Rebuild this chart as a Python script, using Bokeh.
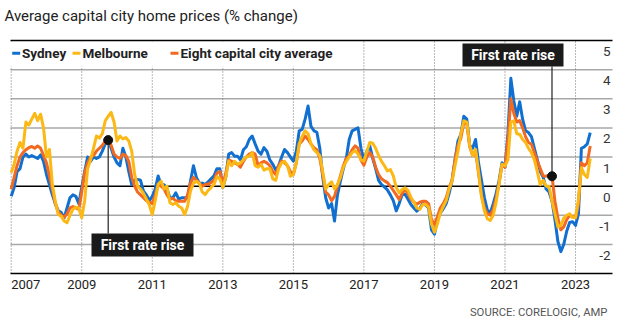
from bokeh.plotting import figure
from bokeh.models import Range1d, ColumnDataSource
from bokeh.core.properties import value
from bokeh.embed import file_html
from bokeh.resources import INLINE

# ---------------- data (monthly, Jan 2007 - Jun 2023) ----------------
sydney = [
    -0.35, -0.05, 0.5, 0.6, 1.0, 1.1, 1.0, 1.05, 1.0, 0.95,
    1.07, 0.85, 0.4, 0.05, -0.3, -0.6, -0.85, -0.9, -1.1, -0.75,
    -0.4, -0.3, -0.35, -0.6, -0.05, 0.5, 1.0, 0.85, 1.0, 0.95,
    1.0, 1.2, 1.45, 1.55, 1.3, 1.0, 0.8, 0.7, 1.3, 1.0,
    0.5, 0.05, 0.2, 0.23, 0.2, -0.17, -0.3, -0.5, -0.35, -0.1,
    0.35, 0.05, 0.05, -0.1, -0.4, -0.4, -0.23, -0.45, -0.4, -0.4,
    -0.4, 0.17, 0.7, 0.3, 0.1, 0.1, 0.05, 0.15, 0.25, 0.35,
    0.6, 0.6, -0.05, 0.3, 1.1, 1.15, 1.03, 1.03, 0.9, 1.25,
    1.35, 1.6, 1.72, 1.45, 1.2, 1.1, 1.32, 1.2, 0.9, 0.75,
    0.55, 0.7, 1.0, 1.26, 1.15, 1.0, 0.86, 1.2, 1.9, 1.95,
    2.3, 2.75, 2.05, 1.9, 1.85, 1.3, 0.3, -0.4, -0.75, -0.6,
    -1.2, -0.3, 0.17, 0.6, 0.95, 1.6, 1.9, 1.95, 2.0, 1.3,
    0.9, 1.2, 1.38, 0.95, 0.6, 0.2, 0.05, -0.03, -0.13, -0.3,
    -0.5, -0.85, -0.6, -0.3, -0.28, -0.45, -0.63, -0.75, -0.86, -0.77,
    -0.6, -0.65, -0.75, -1.5, -1.65, -1.15, -0.92, -0.78, -0.6, -0.25,
    0.2, 0.9, 1.55, 1.78, 2.4, 2.3, 1.4, 1.3, 1.6, 0.8,
    0.2, -0.4, -0.82, -0.92, -0.6, -0.25, 0.2, 0.8, 0.65, 1.8,
    3.7, 2.93, 2.4, 2.9, 2.3, 1.9, 1.84, 1.7, 1.3, 0.9,
    0.5, 0.3, -0.1, -0.2, -0.52, -1.15, -1.9, -2.25, -2.0, -1.55,
    -1.25, -1.22, -1.35, -0.95, 1.3, 1.35, 1.45, 1.84,
]
melbourne = [
    0.46, 0.75, 1.2, 1.5, 1.3, 2.2, 2.1, 2.3, 2.5, 2.25,
    2.47, 2.0, 1.0, 1.26, 0.06, -0.52, -0.98, -1.03, -1.2, -1.26,
    -1.0, -0.8, -0.72, -0.75, -1.09, -0.5, 0.6, 0.9, 1.3, 1.72,
    1.65, 1.8, 2.24, 2.4, 2.53, 2.2, 1.55, 1.72, 1.62, 1.67,
    1.55, 1.2, 0.4, 0.0, -0.1, -0.25, -0.45, -0.65, -0.98, -0.5,
    0.06, 0.17, -0.1, 0.0, -0.57, -0.63, -0.57, -0.69, -0.75, -0.98,
    -0.7, -0.17, 0.1, 0.17, 0.1, -0.2, -0.29, -0.15, -0.05, 0.06,
    0.32, 0.25, -0.05, 0.3, 0.86, 0.7, 0.85, 0.75, 0.8, 0.9,
    1.0, 1.03, 1.15, 0.7, 0.65, 0.75, 0.55, 0.6, 0.6, 0.25,
    0.2, 0.6, 0.8, 0.85, 0.7, 0.34, 0.4, 0.8, 1.45, 1.7,
    1.9, 1.8, 1.45, 1.25, 1.15, 1.05, 0.5, -0.1, 0.05, 0.15,
    -0.1, 0.05, 0.29, 0.65, 0.85, 1.0, 1.15, 1.22, 1.1, 0.9,
    0.86, 1.2, 1.5, 1.47, 1.3, 1.05, 0.85, 0.7, 0.52, 0.57,
    0.35, -0.05, -0.23, -0.12, -0.06, -0.15, -0.38, -0.55, -0.75, -0.8,
    -0.63, -0.63, -0.72, -1.3, -1.58, -1.3, -0.92, -0.7, -0.5, -0.1,
    0.17, 0.7, 1.2, 1.8, 2.24, 2.2, 1.4, 1.05, 1.26, 0.5,
    -0.35, -0.85, -1.12, -1.18, -1.0, -0.55, 0.1, 0.75, 0.7, 0.9,
    2.2, 2.24, 1.8, 1.78, 1.6, 1.5, 1.3, 1.15, 0.9, 0.5,
    0.05, 0.2, 0.0, 0.0, -0.52, -0.95, -1.4, -1.35, -1.1, -1.0,
    -0.95, -1.08, -1.08, -0.45, 0.63, 0.4, 0.3, 0.95,
]
eight_city = [
    -0.1, 0.3, 0.7, 1.0, 1.15, 1.25, 1.32, 1.36, 1.3, 1.38,
    1.3, 1.05, 0.8, 0.35, -0.1, -0.6, -0.88, -1.0, -1.07, -0.95,
    -0.75, -0.7, -0.75, -0.8, -0.2, 0.45, 0.8, 1.0, 1.05, 1.2,
    1.3, 1.4, 1.55, 1.58, 1.4, 1.1, 1.0, 0.95, 1.1, 1.05,
    0.85, 0.3, 0.0, -0.2, -0.3, -0.4, -0.5, -0.55, -0.6, -0.3,
    0.05, 0.0, -0.1, -0.3, -0.45, -0.42, -0.5, -0.52, -0.52, -0.52,
    -0.3, 0.1, 0.3, 0.2, 0.1, 0.0, 0.05, 0.07, 0.12, 0.2,
    0.45, 0.5, 0.05, 0.45, 0.9, 0.85, 0.8, 0.75, 0.65, 0.85,
    1.0, 1.1, 1.15, 1.1, 0.7, 0.8, 0.85, 0.8, 0.7, 0.5,
    0.4, 0.7, 0.86, 0.8, 0.7, 0.5, 0.4, 0.8, 1.45, 1.55,
    1.72, 1.6, 1.45, 1.32, 1.25, 0.95, 0.4, -0.2, -0.3, -0.5,
    -0.35, 0.0, 0.35, 0.7, 0.95, 1.05, 1.25, 1.38, 1.3, 0.9,
    0.72, 1.0, 1.15, 1.0, 0.65, 0.4, 0.25, 0.18, 0.12, 0.0,
    -0.15, -0.3, -0.46, -0.25, -0.12, -0.25, -0.45, -0.55, -0.62, -0.55,
    -0.52, -0.52, -0.6, -1.15, -1.32, -1.05, -0.75, -0.6, -0.4, -0.05,
    0.2, 0.9, 1.4, 1.65, 2.18, 2.15, 1.35, 1.05, 1.2, 0.45,
    -0.3, -0.75, -0.95, -1.0, -0.8, -0.4, 0.1, 0.75, 0.65, 1.6,
    3.0, 2.5, 2.2, 2.25, 2.0, 1.7, 1.5, 1.44, 1.15, 0.86,
    0.6, 0.35, 0.34, 0.38, 0.34, -0.52, -1.1, -1.5, -1.4, -1.15,
    -1.0, -1.05, -1.09, -0.6, 0.8, 0.7, 0.8, 1.38,
]


def month_dates(series):
    return [2007 + i / 12 for i in range(len(series))]


series_names = ["Sydney", "Melbourne", "Eight capital city average"]

rate_rise_dates = [2009.75, 2022.333]
rate_rise_values = [1.58, 0.34]
rate_rise_label = "First rate rise"

x_ticks = [2007, 2009, 2011, 2013, 2015, 2017, 2019, 2021, 2023]
x_labels = ["2007", "2009", "2011", "2013", "2015", "2017", "2019", "2021", "2023"]
y_ticks = [5, 4, 3, 2, 1, 0, -1, -2]
y_labels = ["5", "4", "3", "2", "1", "0", "-1", "-2"]
grid_ticks = [-2, -1, 1, 2, 3, 4]
y_min, y_max = -3, 5

title_text = "Average capital city home prices (% change)"
source_text = "SOURCE: CORELOGIC, AMP"

BLUE = "#1170cf"
YELLOW = "#fcb814"
ORANGE = "#f26a22"
FONT = "Roboto"

# ---------------- layout: the frame covers the whole canvas ----------------
W, H = 620, 327
PX_PER_YEAR = 35.27
X0_PX = 10.7            # pixel of Jan 2007
PX_PER_UNIT = 29.125
Y5_PX = 40              # pixel of the 5 % line

X_START = 2007 - X0_PX / PX_PER_YEAR
X_END = 2007 + (W - X0_PX) / PX_PER_YEAR
Y_END = y_max + Y5_PX / PX_PER_UNIT
Y_START = y_max - (H - Y5_PX) / PX_PER_UNIT


def dx(px):
    return X_START + px / PX_PER_YEAR


def dy(py):
    return Y_END - py / PX_PER_UNIT


LEFT, RIGHT = dx(10), dx(612)

p = figure(width=W, height=H, output_backend="svg", toolbar_location=None,
           tools="", x_range=Range1d(X_START, X_END), y_range=Range1d(Y_START, Y_END),
           x_axis_location=None, y_axis_location=None, min_border=0)
p.outline_line_color = None
p.grid.visible = False
p.background_fill_color = "white"
p.border_fill_color = "white"

# horizontal gridlines
p.segment(x0=[LEFT] * len(grid_ticks), x1=[RIGHT] * len(grid_ticks),
          y0=grid_ticks, y1=grid_ticks, line_color="#a8a8a8", line_width=1.5)
# vertical dotted year lines
p.segment(x0=x_ticks, x1=x_ticks, y0=[y_min] * len(x_ticks), y1=[y_max] * len(x_ticks),
          line_color="#6f6f6f", line_width=1, line_dash="1 2")
# zero line and bottom axis line
p.segment(x0=[LEFT, LEFT], x1=[RIGHT, RIGHT], y0=[0, y_min], y1=[0, y_min],
          line_color="black", line_width=1.5)

# connectors of the rate-rise notes
p.segment(x0=rate_rise_dates, y0=rate_rise_values, x1=rate_rise_dates,
          y1=[dy(233), dy(66)], line_color="#222222", line_width=1.2)

p.line(month_dates(sydney), sydney, line_width=3, line_color=BLUE, line_join="round")
p.line(month_dates(eight_city), eight_city, line_width=3, line_color=ORANGE, line_join="round")
p.line(month_dates(melbourne), melbourne, line_width=3, line_color=YELLOW, line_join="round")

p.scatter(x=rate_rise_dates, y=rate_rise_values, size=9, color="#111111")

# legend: white panel, short colour dashes and bold labels
p.quad(left=[dx(9)], right=[dx(336)], top=[dy(41)], bottom=[dy(66)],
       fill_color="white", line_color=None)
leg_y = dy(52.7)
dash_px = [(11.7, 19.7), (72, 80), (170, 178)]
text_px = [21.5, 82, 180]
p.segment(x0=[dx(a) for a, b in dash_px], x1=[dx(b) for a, b in dash_px],
          y0=[leg_y] * 3, y1=[leg_y] * 3, line_color=[BLUE, YELLOW, ORANGE], line_width=3)
p.text(x=[dx(t) for t in text_px], y=[leg_y] * 3, text=series_names, text_align="left",
       text_baseline="middle", text_font=value(FONT), text_font_style="bold",
       text_font_size="13.5px", text_color="#222222")

# top line
p.segment(x0=[LEFT], x1=[RIGHT], y0=[y_max], y1=[y_max], line_color="black", line_width=1.5)

# y labels, under their gridlines at the right
p.text(x=[dx(610)] * len(y_ticks), y=y_ticks, text=y_labels, y_offset=11,
       text_align="right", text_baseline="middle", text_font=value(FONT),
       text_font_size="13.5px", text_color="#333333")

# x labels below the axis line (first one starts at its tick)
xl = ColumnDataSource(dict(x=x_ticks, text=x_labels,
                           align=["left"] + ["center"] * (len(x_ticks) - 1)))
p.text(x="x", y=dy(284), text="text", text_align="align", source=xl,
       text_baseline="middle", text_font=value(FONT), text_font_size="13px",
       text_color="#222222")

# rate-rise note boxes
boxes = [(91, 193, 233, 256), (462, 563, 43, 66)]
p.quad(left=[dx(b[0]) for b in boxes], right=[dx(b[1]) for b in boxes],
       top=[dy(b[2]) for b in boxes], bottom=[dy(b[3]) for b in boxes],
       fill_color="#1a1a1a", line_color=None)
p.text(x=[dx((b[0] + b[1]) / 2) for b in boxes], y=[dy((b[2] + b[3]) / 2) for b in boxes],
       text=[rate_rise_label] * len(boxes), text_align="center", text_baseline="middle",
       text_color="white", text_font=value(FONT), text_font_style="bold",
       text_font_size="14px")

# title and source
p.text(x=[dx(4)], y=[dy(15)], text=[title_text], text_align="left",
       text_baseline="middle", text_font=value(FONT), text_font_size="15px",
       text_color="#222222")
p.text(x=[dx(607)], y=[dy(312)], text=[source_text], text_align="right",
       text_baseline="middle", text_font=value(FONT), text_font_size="11.3px",
       text_color="#555555")

open("out.html", "w").write(file_html(p, INLINE))
